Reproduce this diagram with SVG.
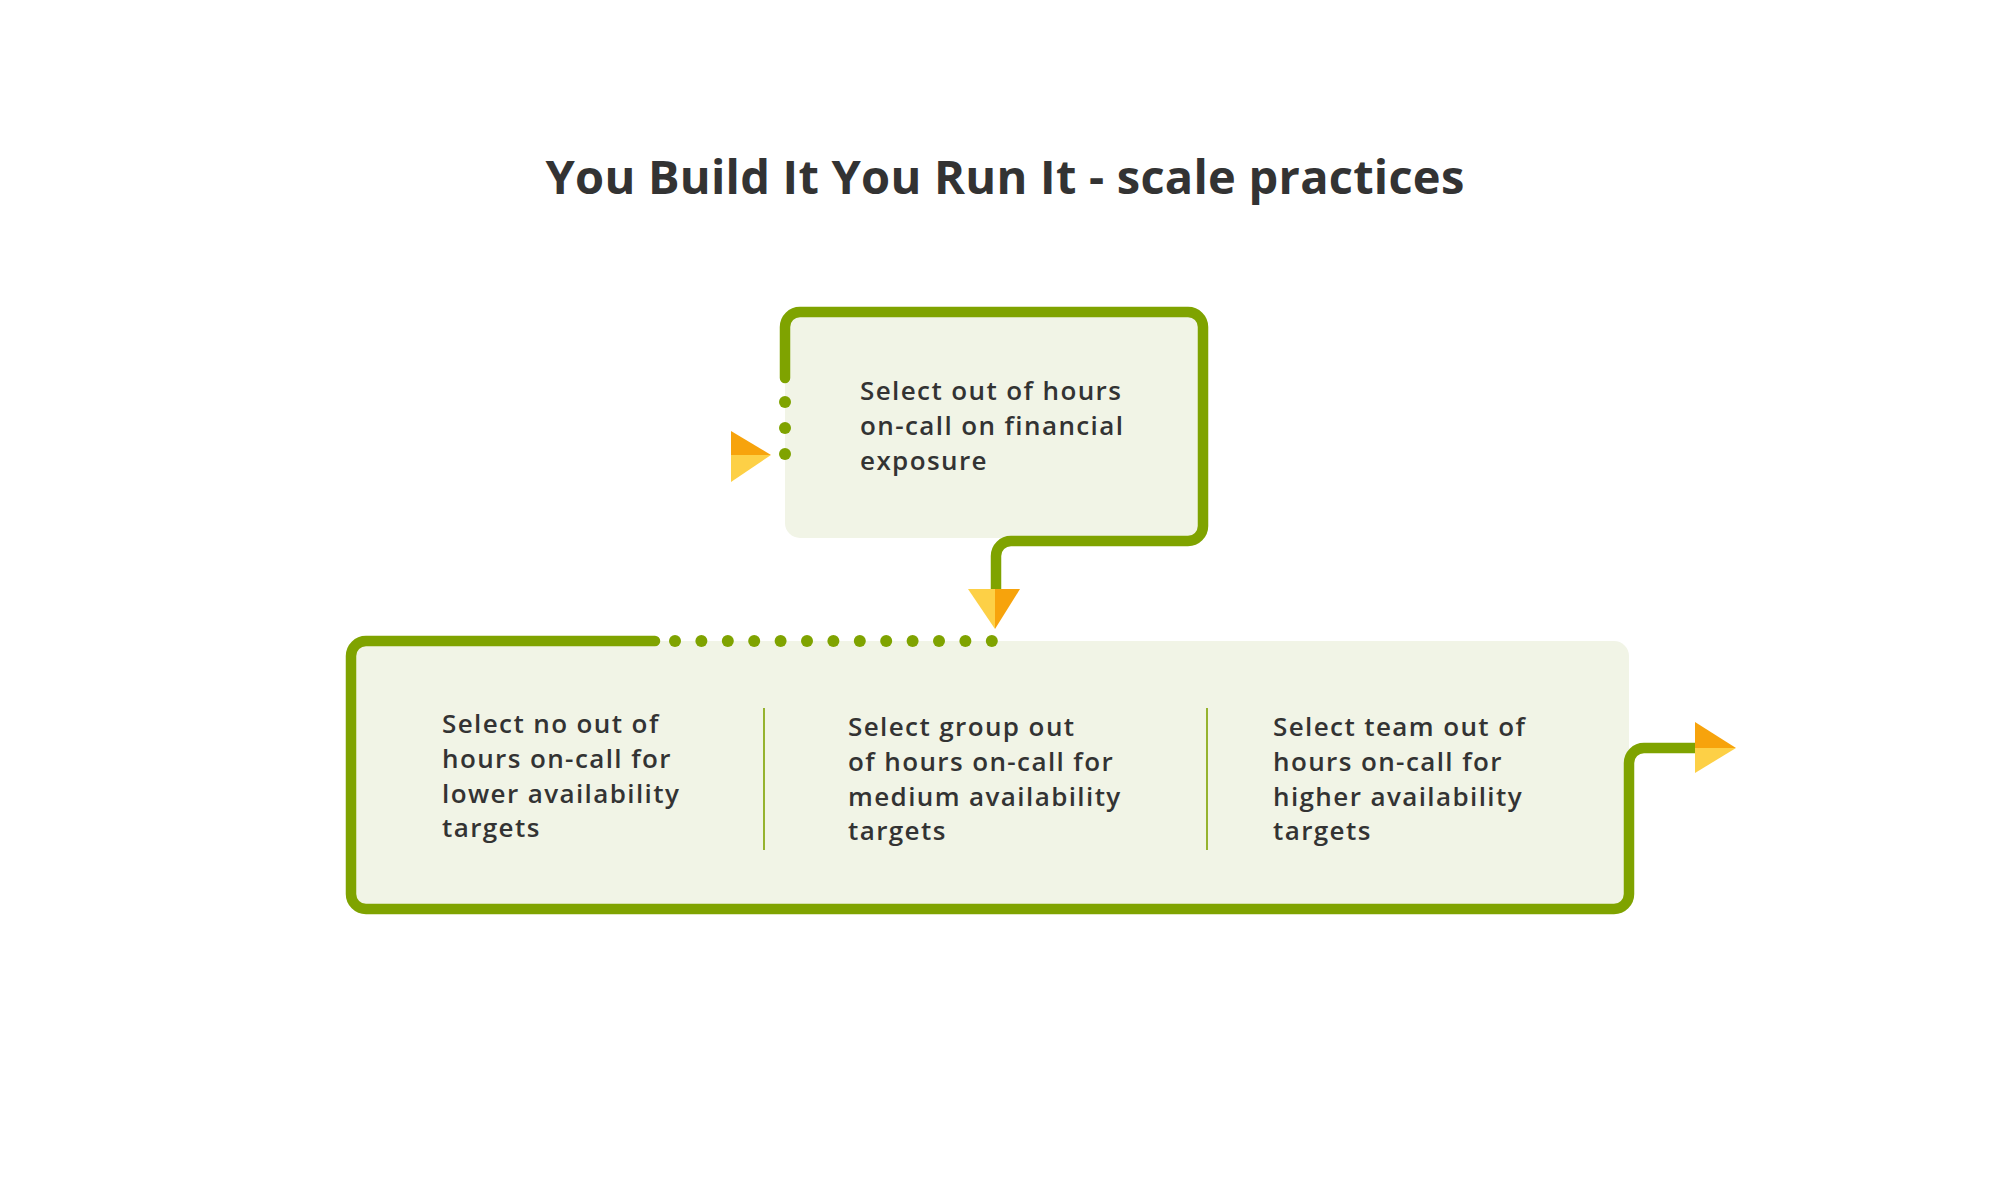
<svg xmlns="http://www.w3.org/2000/svg" width="2014" height="1188" viewBox="0 0 2014 1188">
  <style>
    .fill { fill: #F1F4E6; }
    .line { fill: none; stroke: #7FA300; stroke-width: 10.5; stroke-linecap: round; stroke-linejoin: round; }
    .dot { fill: #7FA300; }
    .div { stroke: #7FA300; stroke-width: 1.6; }
    .or { fill: #F7A30C; }
    .ye { fill: #FDD046; }
    .title { font-family: "Open Sans", "Liberation Sans", sans-serif; font-weight: 700; font-size: 47px; letter-spacing: 0.25px; fill: #333333; }
    .lbl { font-family: "Open Sans", "Liberation Sans", sans-serif; font-weight: 600; font-size: 26px; letter-spacing: 1.4px; fill: #333333; }
  </style>
  <rect width="2014" height="1188" fill="#FFFFFF"/>
  <text class="title" x="1005" y="194" text-anchor="middle">You Build It You Run It - scale practices</text>

  <g id="node-financial">
    <rect class="fill" x="785" y="312" width="418" height="226" rx="15"/>
    <text class="lbl" x="860" y="400">Select out of hours</text>
    <text class="lbl" x="860" y="435">on-call on financial</text>
    <text class="lbl" x="860" y="470">exposure</text>
  </g>

  <g id="node-availability">
    <rect class="fill" x="351" y="641" width="1278" height="268" rx="15"/>
    <line class="div" x1="764" y1="708" x2="764" y2="850"/>
    <line class="div" x1="1207" y1="708" x2="1207" y2="850"/>
    <g id="node-lower">
      <text class="lbl" x="442" y="733">Select no out of</text>
      <text class="lbl" x="442" y="768">hours on-call for</text>
      <text class="lbl" x="442" y="803">lower availability</text>
      <text class="lbl" x="442" y="837">targets</text>
    </g>
    <g id="node-medium">
      <text class="lbl" x="848" y="736">Select group out</text>
      <text class="lbl" x="848" y="771">of hours on-call for</text>
      <text class="lbl" x="848" y="806">medium availability</text>
      <text class="lbl" x="848" y="840">targets</text>
    </g>
    <g id="node-higher">
      <text class="lbl" x="1273" y="736">Select team out of</text>
      <text class="lbl" x="1273" y="771">hours on-call for</text>
      <text class="lbl" x="1273" y="806">higher availability</text>
      <text class="lbl" x="1273" y="840">targets</text>
    </g>
  </g>

  <g id="connectors">
    <circle class="dot" cx="785" cy="402" r="6"/>
    <circle class="dot" cx="785" cy="428" r="6"/>
    <circle class="dot" cx="785" cy="454" r="6"/>
    <polygon class="or" points="731,431 771,455 731,455"/>
    <polygon class="ye" points="731,455 771,455 731,482"/>

    <path class="line" d="M785,378 V327 A15,15 0 0 1 800,312 H1188 A15,15 0 0 1 1203,327 V526 A15,15 0 0 1 1188,541 H1011 A15,15 0 0 0 996,556 V589"/>
    <polygon class="ye" points="968,589 995,589 995,629"/>
    <polygon class="or" points="995,589 1020,589 995,629"/>

    <g>
      <circle class="dot" cx="675" cy="641" r="6"/>
      <circle class="dot" cx="701.4" cy="641" r="6"/>
      <circle class="dot" cx="727.8" cy="641" r="6"/>
      <circle class="dot" cx="754.2" cy="641" r="6"/>
      <circle class="dot" cx="780.6" cy="641" r="6"/>
      <circle class="dot" cx="807" cy="641" r="6"/>
      <circle class="dot" cx="833.4" cy="641" r="6"/>
      <circle class="dot" cx="859.8" cy="641" r="6"/>
      <circle class="dot" cx="886.2" cy="641" r="6"/>
      <circle class="dot" cx="912.6" cy="641" r="6"/>
      <circle class="dot" cx="939" cy="641" r="6"/>
      <circle class="dot" cx="965.4" cy="641" r="6"/>
      <circle class="dot" cx="991.8" cy="641" r="6"/>
    </g>

    <path class="line" d="M655,641 H366 A15,15 0 0 0 351,656 V894 A15,15 0 0 0 366,909 H1614 A15,15 0 0 0 1629,894 V763 A15,15 0 0 1 1644,748 H1695"/>
    <polygon class="or" points="1695,722 1736,748 1695,748"/>
    <polygon class="ye" points="1695,748 1736,748 1695,773"/>
  </g>
</svg>
